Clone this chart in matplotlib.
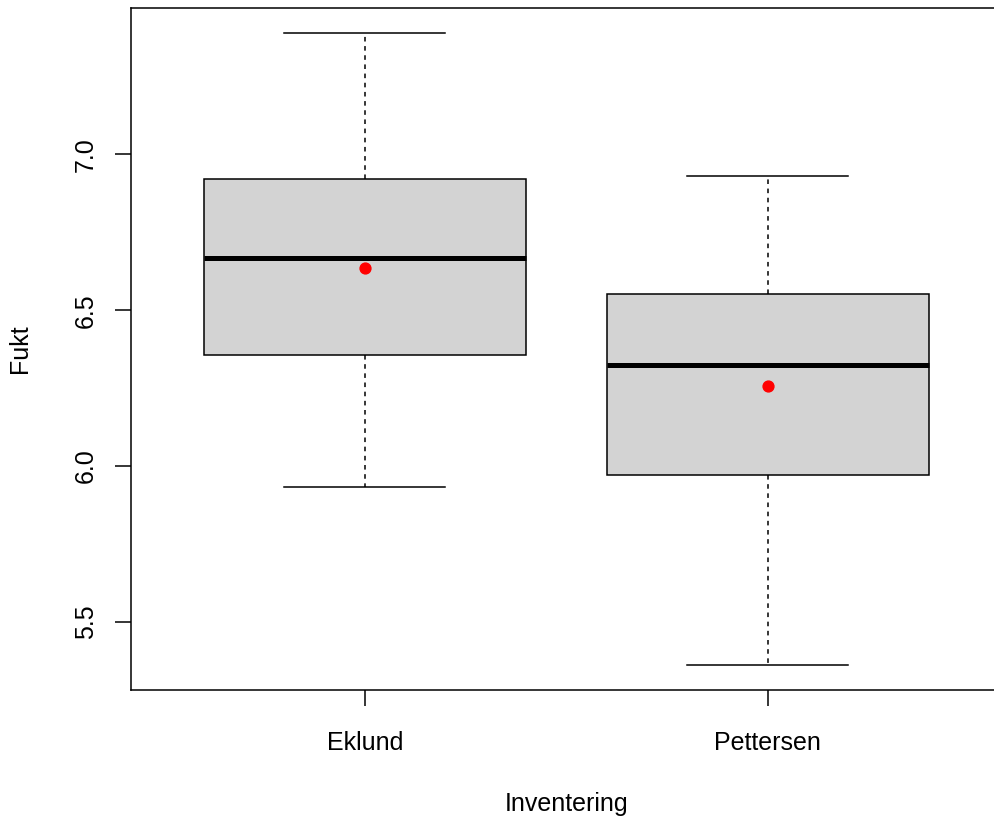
import matplotlib
matplotlib.use("Agg")
import matplotlib.pyplot as plt

categories = ["Eklund", "Pettersen"]
whislo = [5.932, 5.362]
q1 = [6.355, 5.971]
med = [6.669, 6.323]
q3 = [6.920, 6.551]
whishi = [7.389, 6.932]
means = [6.637, 6.256]
yticks = [5.5, 6.0, 6.5, 7.0]
ytick_labels = ["5.5", "6.0", "6.5", "7.0"]

plt.rcParams['font.family'] = ['Liberation Sans', 'DejaVu Sans']

W, H = 995, 817
fig = plt.figure(figsize=(W/100, H/100), dpi=100)
left = 131 / W
unit = 403 / W
width = 2.16 * unit
bottom = (H - 690) / H
height = (690 - 8) / H
ax = fig.add_axes([left, bottom, width, height])

stats = []
for i, c in enumerate(categories):
    stats.append(dict(label=c, whislo=whislo[i], q1=q1[i], med=med[i], q3=q3[i],
                      whishi=whishi[i], fliers=[]))
positions = [1, 2]
ax.bxp(stats, positions=positions, widths=0.8, patch_artist=True, showfliers=False,
       boxprops=dict(facecolor='#D3D3D3', edgecolor='black', linewidth=1.1),
       medianprops=dict(color='black', linewidth=3.6, solid_capstyle='butt'),
       whiskerprops=dict(color='black', linewidth=1.1, linestyle=(0, (3, 3))),
       capprops=dict(color='black', linewidth=1.1),
       capwidths=0.4)
ax.plot(positions, means, 'o', color='red', markersize=7.8, zorder=5)

ax.set_xlim(0.42, 2.58)
rng = max(whishi) - min(whislo)
ax.set_ylim(min(whislo) - 0.04 * rng, max(whishi) + 0.04 * rng)
ax.set_yticks(yticks)
ax.set_yticklabels(ytick_labels, rotation=90, va='center')
ax.set_xticks(positions)
ax.set_xticklabels(categories)
ax.tick_params(axis='both', length=11.5, width=1.1, labelsize=18)
ax.tick_params(axis='x', pad=18)
ax.tick_params(axis='y', pad=12.5)
for s in ax.spines.values():
    s.set_linewidth(1.1)
ax.set_xlabel("Inventering", fontsize=18, labelpad=27)
ax.set_ylabel("Fukt", fontsize=18, labelpad=30)

fig.savefig("out.png", dpi=100)
